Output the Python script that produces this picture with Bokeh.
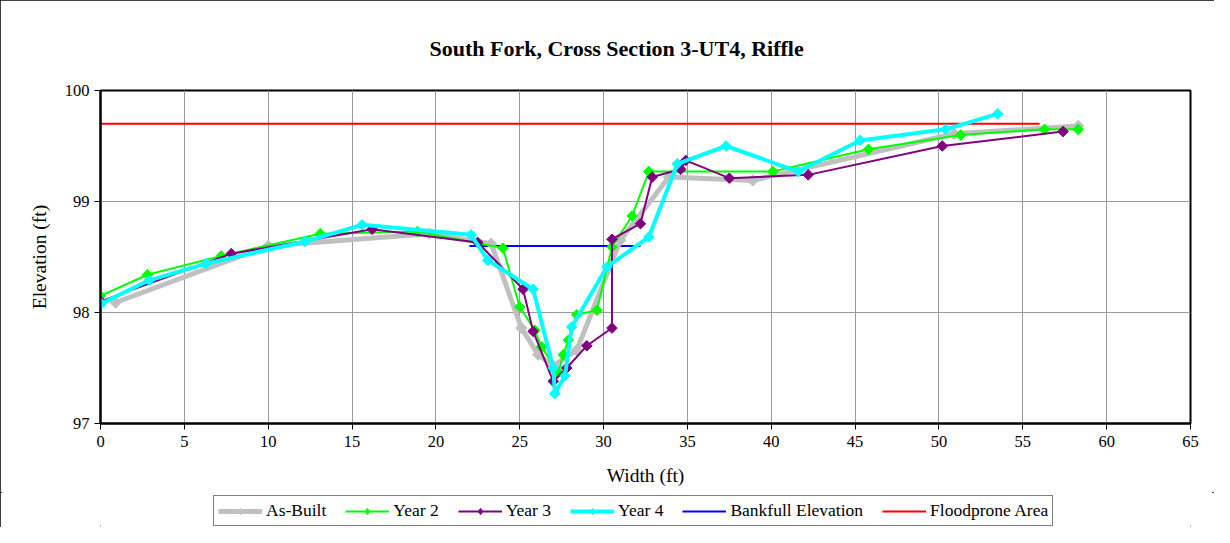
import math
from bokeh.plotting import figure
from bokeh.layouts import column
from bokeh.models import FixedTicker, Legend, LegendItem
from bokeh.embed import file_html
from bokeh.resources import INLINE

# ---- data ----
asbuilt_x = [0.9, 10.0, 19.6, 23.3, 25.1, 26.1, 27.0, 28.4, 31.0, 33.9, 38.9, 50.9, 58.3]
asbuilt_y = [98.09, 98.60, 98.71, 98.62, 97.86, 97.62, 97.52, 97.66, 98.65, 99.22, 99.19, 99.61, 99.68]

year2_x = [0.0, 2.8, 7.2, 13.1, 18.9, 24.0, 25.0, 25.9, 26.3, 27.3, 27.6, 27.9, 28.4, 29.6, 30.5, 31.7, 32.7, 40.1, 45.8, 51.3, 56.3, 58.3]
year2_y = [98.15, 98.34, 98.51, 98.71, 98.73, 98.58, 98.05, 97.84, 97.69, 97.46, 97.62, 97.75, 97.98, 98.02, 98.59, 98.87, 99.27, 99.27, 99.47, 99.60, 99.65, 99.65]

year3_x = [0.0, 7.8, 16.2, 22.5, 25.2, 25.8, 27.0, 27.8, 29.0, 30.5, 30.5, 32.2, 32.9, 34.6, 34.9, 37.5, 42.2, 50.2, 57.4]
year3_y = [98.10, 98.53, 98.75, 98.63, 98.21, 97.83, 97.38, 97.50, 97.70, 97.86, 98.66, 98.80, 99.22, 99.29, 99.37, 99.21, 99.24, 99.50, 99.63]

year4_x = [0.05, 2.9, 6.3, 12.2, 15.6, 22.1, 23.1, 25.8, 27.0, 27.1, 27.7, 28.1, 30.2, 32.7, 34.4, 37.3, 41.6, 45.3, 50.4, 53.5]
year4_y = [98.08, 98.29, 98.44, 98.64, 98.79, 98.70, 98.47, 98.21, 97.50, 97.27, 97.43, 97.87, 98.41, 98.68, 99.34, 99.50, 99.27, 99.55, 99.65, 99.79]

bankfull_x = [22.0, 32.2]
bankfull_y = [98.6, 98.6]

flood_x = [0.0, 56.0]
flood_y = [99.7, 99.7]

x_ticks = [0, 5, 10, 15, 20, 25, 30, 35, 40, 45, 50, 55, 60, 65]
y_ticks = [97, 98, 99, 100]

series_names = ["As-Built", "Year 2", "Year 3", "Year 4", "Bankfull Elevation", "Floodprone Area"]
series_colors = ["#C0C0C0", "#00FF00", "#800080", "#00FFFF", "#0000FF", "#FF0000"]

FONT = "Liberation Serif"

p = figure(width=1214, height=492, x_range=(0, 65), y_range=(97, 100),
           output_backend="svg", toolbar_location=None,
           min_border_left=100, min_border_right=24, min_border_top=90, min_border_bottom=69)

p.outline_line_color = "black"
p.outline_line_width = 2

for ax in (p.xaxis[0], p.yaxis[0]):
    ax.major_label_text_font = FONT
    ax.major_label_text_font_size = "16.5px"
    ax.major_label_text_color = "black"
    ax.axis_line_color = "black"
    ax.axis_line_width = 2
    ax.major_tick_line_color = "black"
    ax.major_tick_in = 0
    ax.major_tick_out = 6
    ax.minor_tick_line_color = None
    ax.axis_label_text_font = FONT
    ax.axis_label_text_font_style = "normal"
    ax.axis_label_text_font_size = "19.5px"
    ax.axis_label_text_color = "black"

p.xaxis.ticker = FixedTicker(ticks=x_ticks)
p.yaxis.ticker = FixedTicker(ticks=y_ticks)
p.yaxis.axis_label = "Elevation (ft)"
p.yaxis.axis_label_standoff = 12
p.xaxis.axis_label = "Width (ft)"
p.xaxis.axis_label_standoff = 15
p.xaxis.major_label_standoff = 6

p.xgrid.grid_line_color = "#9a9a9a"
p.ygrid.grid_line_color = "#9a9a9a"
p.xgrid.grid_line_width = 1
p.ygrid.grid_line_width = 1

p.title.text = "South Fork, Cross Section 3-UT4, Riffle"
p.title.text_font = FONT
p.title.text_font_size = "22px"
p.title.text_font_style = "bold"
p.title.text_color = "black"
p.title.align = "left"
p.title.offset = 329
p.title.standoff = 59

ang = math.pi / 4

p.line(bankfull_x, bankfull_y, line_color=series_colors[4], line_width=2)
p.line(flood_x, flood_y, line_color=series_colors[5], line_width=2)

p.line(asbuilt_x, asbuilt_y, line_color=series_colors[0], line_width=5)
p.scatter(asbuilt_x, asbuilt_y, marker="square", angle=ang, size=8, fill_color=series_colors[0], line_color=series_colors[0])

p.line(year2_x, year2_y, line_color=series_colors[1], line_width=2)
p.scatter(year2_x, year2_y, marker="square", angle=ang, size=7.5, fill_color=series_colors[1], line_color=series_colors[1])

p.line(year3_x, year3_y, line_color=series_colors[2], line_width=2)
p.scatter(year3_x, year3_y, marker="square", angle=ang, size=7.5, fill_color=series_colors[2], line_color=series_colors[2])

p.line(year4_x, year4_y, line_color=series_colors[3], line_width=4)
p.scatter(year4_x, year4_y, marker="square", angle=ang, size=7.5, fill_color=series_colors[3], line_color=series_colors[3])

# ---- legend strip (separate small figure so the legend is not clipped) ----
pl = figure(width=1214, height=35, x_range=(0, 1), y_range=(0, 1),
            output_backend="svg", toolbar_location=None,
            x_axis_location=None, y_axis_location=None,
            min_border_left=0, min_border_right=0, min_border_top=0, min_border_bottom=0)
pl.outline_line_color = None
pl.xgrid.visible = False
pl.ygrid.visible = False

# legend proxies: placed outside the strip's visible range, only their legend glyphs show
proxy_x = [5, 6]
proxy_y = [5, 5]
line_widths = [5, 2, 2, 4, 2, 2]
items = []
for i, (name, col) in enumerate(zip(series_names, series_colors)):
    rs = [pl.line(x=proxy_x, y=proxy_y, line_color=col, line_width=line_widths[i])]
    if i < 4:
        rs.append(pl.scatter(x=proxy_x, y=proxy_y, marker="diamond", size=12, fill_color=col, line_color=col))
    items.append(LegendItem(label=name, renderers=rs))

legend = Legend(items=items, orientation="horizontal", location=(113, 1))
legend.label_text_font = FONT
legend.label_text_font_size = "17.5px"
legend.label_text_color = "black"
legend.label_height = 16
legend.glyph_width = 44
legend.glyph_height = 16
legend.spacing = 19
legend.padding = 4
legend.margin = 0
legend.label_standoff = 4
legend.border_line_color = "black"
legend.border_line_width = 1
legend.background_fill_alpha = 1
pl.add_layout(legend, "center")

layout = column(p, pl, spacing=0)
layout.styles = {"outline": "2px solid black", "outline-offset": "-2px"}

open("out.html", "w").write(file_html(layout, INLINE))
